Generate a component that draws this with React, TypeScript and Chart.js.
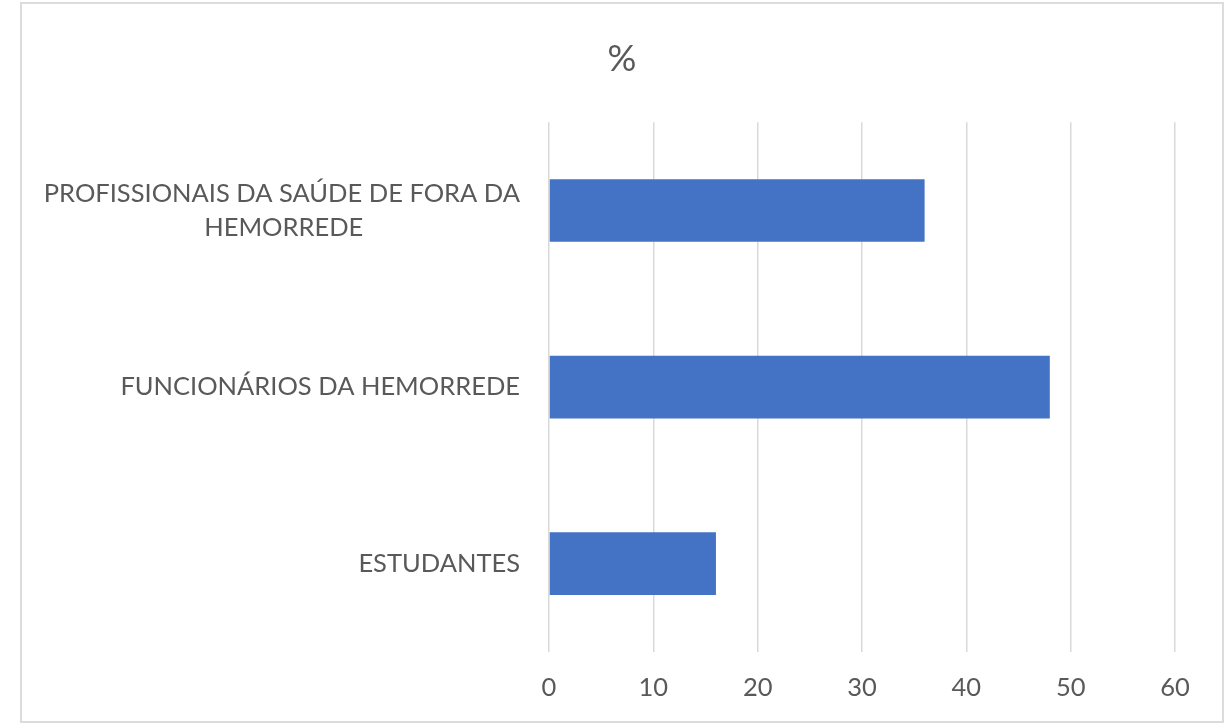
import React, { useEffect, useRef } from "react";
import { Chart, registerables } from "chart.js";

Chart.register(...registerables);

const categories: string[][] = [
  ["PROFISSIONAIS DA SAÚDE DE FORA DA", "HEMORREDE"],
  ["FUNCIONÁRIOS DA HEMORREDE"],
  ["ESTUDANTES"],
];
const values: number[] = [36, 48, 16];
const xMin = 0;
const xMax = 60;
const xStep = 10;
const chartTitle = "%";

const FONT = "Lato, 'Open Sans', sans-serif";
const LABEL_SIZE = 25.5;
const TEXT_COLOR = "#595959";
const BAR_COLOR = "#4472C4";
const GRID_COLOR = "#d9d9d9";

function centerLines(lines: string[]): string | string[] {
  if (lines.length < 2) return lines[0];
  const c = document.createElement("canvas").getContext("2d")!;
  c.font = `${LABEL_SIZE}px ${FONT}`;
  const maxW = Math.max(...lines.map((l) => c.measureText(l).width));
  const sp = c.measureText(" ").width;
  return lines.map(
    (l) => l + " ".repeat(Math.max(0, Math.round((maxW - c.measureText(l).width) / 2 / sp)))
  );
}

export default function App() {
  const ref = useRef<HTMLCanvasElement | null>(null);

  useEffect(() => {
    document.body.style.margin = "0";
    const canvas = ref.current;
    if (!canvas) return;
    const labels = categories.map(centerLines);
    const chart = new Chart(canvas, {
      type: "bar",
      data: {
        labels,
        datasets: [
          {
            data: values,
            backgroundColor: BAR_COLOR,
            borderWidth: 0,
            categoryPercentage: 1,
            barPercentage: 0.355,
            xAxisID: "x",
            yAxisID: "y",
          },
        ],
      },
      options: {
        indexAxis: "y",
        animation: false,
        responsive: false,
        maintainAspectRatio: false,
        layout: { padding: 0 },
        plugins: {
          legend: { display: false },
          tooltip: { enabled: false },
          title: {
            display: true,
            text: chartTitle,
            color: TEXT_COLOR,
            font: { family: FONT, size: 36, weight: "normal" },
            padding: { top: 34, bottom: 41 },
          },
        },
        scales: {
          x: {
            type: "linear",
            min: xMin,
            max: xMax,
            border: { display: false },
            grid: { color: GRID_COLOR, lineWidth: 1.5, drawTicks: false },
            ticks: {
              stepSize: xStep,
              color: TEXT_COLOR,
              padding: 20,
              font: { family: FONT, size: LABEL_SIZE },
            },
            afterFit: (s: any) => {
              s.height = 69;
            },
          },
          y: {
            type: "category",
            position: "left",
            border: { display: false },
            grid: { display: false, drawTicks: false },
            ticks: {
              color: TEXT_COLOR,
              padding: 29,
              font: { family: FONT, size: LABEL_SIZE, lineHeight: 1.34 },
            },
            afterFit: (s: any) => {
              s.width = 527;
            },
          },
          yRight: {
            type: "category",
            position: "right",
            border: { display: false },
            grid: { display: false, drawTicks: false },
            ticks: { display: false },
            afterFit: (s: any) => {
              s.width = 47;
            },
          },
        },
      },
    });
    return () => chart.destroy();
  }, []);

  return (
    <div
      style={{
        position: "absolute",
        left: 20,
        top: 2,
        width: 1204,
        height: 721,
        boxSizing: "border-box",
        border: "2px solid #dcdcdc",
        background: "#fff",
      }}
    >
      <canvas ref={ref} width={1200} height={717} style={{ display: "block" }} />
    </div>
  );
}
